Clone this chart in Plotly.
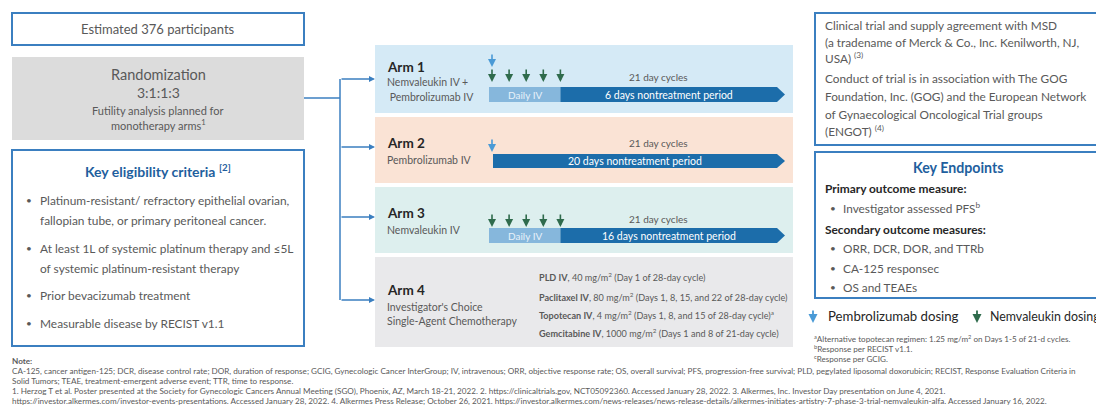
import plotly.graph_objects as go

FONT = "Lato"
GRAY = "#595959"
DARK = "#262626"
BLUE_BORDER = "#3B7FC0"
TITLE_BLUE = "#1F5F9E"
DARK_BAR = "#1C6DAA"
LIGHT_BAR = "#86B7DC"
GREEN = "#2F6B4C"
PEMBRO_BLUE = "#4A9AD6"

# ---------------- data ----------------
participants = "Estimated 376 participants"
randomization = ["Randomization", "3:1:1:3", "Futility analysis planned for", "monotherapy arms<sup>1</sup>"]
arm_titles = ["Arm 1", "Arm 2", "Arm 3", "Arm 4"]
arm_subtitles = [["Nemvaleukin IV +", " Pembrolizumab IV"], ["Pembrolizumab IV"], ["Nemvaleukin IV"],
                 ["Investigator's Choice", "Single-Agent Chemotherapy"]]
arm_colors = ["#D5EAF6", "#FAE3D5", "#DDEFEE", "#E9E9EB"]
cycle_days = [21, 21, 21]
pembro_days = [[1], [1], []]
nemva_days = [[1, 2, 3, 4, 5], [], [1, 2, 3, 4, 5]]
nontreatment_days = [6, 20, 16]
daily_label = "Daily IV"
chemo_lines = [
    "<b>PLD IV</b>, 40 mg/m<sup>2</sup> (Day 1 of 28-day cycle)",
    "<b>Paclitaxel IV</b>, 80 mg/m<sup>2</sup> (Days 1, 8, 15, and 22 of 28-day cycle)",
    "<b>Topotecan IV</b>, 4 mg/m<sup>2</sup> (Days 1, 8, and 15 of 28-day cycle)<sup>a</sup>",
    "<b>Gemcitabine IV</b>, 1000 mg/m<sup>2</sup> (Days 1 and 8 of 21-day cycle)",
]
eligibility_title = "Key eligibility criteria <sup>[2]</sup>"
eligibility = [
    ["Platinum-resistant/ refractory epithelial ovarian,", "fallopian tube, or primary peritoneal cancer."],
    ["At least 1L of systemic platinum therapy and ≤5L", "of systemic platinum-resistant therapy"],
    ["Prior bevacizumab treatment"],
    ["Measurable disease by RECIST v1.1"],
]
agreement_lines = [
    "Clinical trial and supply agreement with MSD",
    "(a tradename of Merck & Co., Inc. Kenilworth, NJ,",
    "USA) <sup>(3)</sup>",
    "Conduct of trial is in association with The GOG",
    "Foundation, Inc. (GOG) and the European Network",
    "of Gynaecological Oncological Trial groups",
    "(ENGOT) <sup>(4)</sup>",
]
endpoints_title = "Key Endpoints"
primary_title = "Primary outcome measure:"
primary = ["Investigator assessed PFS<sup>b</sup>"]
secondary_title = "Secondary outcome measures:"
secondary = ["ORR, DCR, DOR, and TTRb", "CA-125 responsec", "OS and TEAEs"]
legend_labels = ["Pembrolizumab dosing", "Nemvaleukin dosing"]
side_notes = [
    "<sup>a</sup>Alternative topotecan regimen: 1.25 mg/m<sup>2</sup> on Days 1-5 of 21-d cycles.",
    "<sup>b</sup>Response per RECIST v1.1.",
    "<sup>c</sup>Response per GCIG.",
]
notes = [
    "<b>Note:</b>",
    "CA-125, cancer antigen-125; DCR, disease control rate; DOR, duration of response; GCIG, Gynecologic Cancer InterGroup; IV, intravenous; ORR, objective response rate; OS, overall survival; PFS, progression-free survival; PLD, pegylated liposomal doxorubicin; RECIST, Response Evaluation Criteria in",
    "Solid Tumors; TEAE, treatment-emergent adverse event; TTR, time to response.",
    "1. Herzog T et al. Poster presented at the Society for Gynecologic Cancers Annual Meeting (SGO), Phoenix, AZ, March 18-21, 2022. 2. https://clinicaltrials.gov, NCT05092360. Accessed January 28, 2022. 3. Alkermes, Inc. Investor Day presentation on June 4, 2021.",
    "https://investor.alkermes.com/investor-events-presentations. Accessed January 28, 2022. 4. Alkermes Press Release; October 26, 2021. https://investor.alkermes.com/news-releases/news-release-details/alkermes-initiates-artistry-7-phase-3-trial-nemvaleukin-alfa. Accessed January 16, 2022.",
]

# ---------------- layout geometry ----------------
W, H = 1104, 409
OFF = 8  # page body margin
shapes = []
ann = []


def text(x, y, s, size=11, color=GRAY, anchor="left", family=FONT, bold=False):
    if bold:
        s = "<b>" + s + "</b>"
    ann.append(dict(x=x, y=y, xref="x", yref="y", text=s, showarrow=False, xanchor=anchor,
                    yanchor="middle", font=dict(size=size, color=color, family=family)))


def rect(x0, y0, x1, y1, fill="white", line=None, lw=0):
    shapes.append(dict(type="rect", x0=x0, y0=y0, x1=x1, y1=y1, xref="x", yref="y",
                       fillcolor=fill, line=dict(color=line or fill, width=lw), layer="below"))


def line(x0, y0, x1, y1, color=BLUE_BORDER, w=1.5):
    shapes.append(dict(type="line", x0=x0, y0=y0, x1=x1, y1=y1, xref="x", yref="y",
                       line=dict(color=color, width=w)))


def down_arrow(x, y0, y1, color, w=1.6):
    ann.append(dict(x=x, y=y1, ax=x, ay=y0, xref="x", yref="y", axref="x", ayref="y", text="",
                    showarrow=True, arrowhead=2, arrowsize=1.0, arrowwidth=w, arrowcolor=color))


def right_arrow(x0, x1, y, color=BLUE_BORDER):
    ann.append(dict(x=x1, y=y, ax=x0, ay=y, xref="x", yref="y", axref="x", ayref="y", text="",
                    showarrow=True, arrowhead=2, arrowsize=0.8, arrowwidth=1.5, arrowcolor=color))


# participants box
rect(12, 13, 304, 45, fill="white", line=BLUE_BORDER, lw=2)
text(158, 29, participants, size=13, color=GRAY, anchor="center")

# randomization box
rect(12, 57, 304, 140, fill="#DCDCDC")
text(158, 74, randomization[0], size=14.5, color=GRAY, anchor="center")
text(158, 92, randomization[1], size=14, color=GRAY, anchor="center")
text(158, 110, randomization[2], size=11, color=GRAY, anchor="center")
text(158, 124, randomization[3], size=11, color=GRAY, anchor="center")

# eligibility box
rect(12, 150, 304, 346, fill="white", line=BLUE_BORDER, lw=2)
text(158, 170, eligibility_title, size=14, color=TITLE_BLUE, anchor="center", bold=True)
ey = [200, 248, 295, 323]
for yy, item in zip(ey, eligibility):
    text(24, yy, "•", size=10, color=GRAY)
    for k, ln in enumerate(item):
        text(38, yy + k * 20, ln, size=11.9, color=GRAY)

# connectors
arm_y = [79, 147, 217, 300]
line(304, 98, 340, 98)
line(340, arm_y[0], 340, arm_y[-1])
for yy in arm_y:
    right_arrow(340, 375, yy)

# arm boxes
arm_boxes = [(45, 113), (117, 183), (187, 253), (257, 347)]
for (y0, y1), c in zip(arm_boxes, arm_colors):
    rect(375, y0, 793, y1, fill=c)

title_y = [67, 143, 213, 290]
for i in range(4):
    text(385, title_y[i], arm_titles[i], size=13.5, color=DARK, bold=True)
sub_y = [[82, 97], [160], [230], [307, 321]]
for i in range(4):
    for s, yy in zip(arm_subtitles[i], sub_y[i]):
        text(385, yy, s, size=10.5, color=GRAY)

# timelines
BAR_X0, BAR_X1 = 489, 785
DAY_W = 17.1


def day_x(d):
    return BAR_X0 + 3 + (d - 1) * DAY_W


bar_y = [(87, 102), (154, 168), (228, 243)]
cycle_y = [77, 143, 219]
pembro_y = [(53, 67), (138, 152), None]
nemva_y = [(68, 82), None, (213, 227)]
for i in range(3):
    y0, y1 = bar_y[i]
    n_treat = len(nemva_days[i])
    split = day_x(n_treat) if n_treat else BAR_X0 + 4
    if n_treat:
        rect(BAR_X0, y0, split, y1, fill=LIGHT_BAR)
        text((BAR_X0 + split) / 2, (y0 + y1) / 2, daily_label, size=10, color="#E8F2FA", anchor="center")
    ym = (y0 + y1) / 2
    shapes.append(dict(type="path", xref="x", yref="y",
                       path=f"M{split},{y0} L{BAR_X1 - 8},{y0} L{BAR_X1},{ym} L{BAR_X1 - 8},{y1} L{split},{y1} Z",
                       fillcolor=DARK_BAR, line=dict(width=0)))
    text((split + BAR_X1 - 8) / 2, ym, f"{nontreatment_days[i]} days nontreatment period", size=10.5,
         color="white", anchor="center")
    text(658, cycle_y[i], f"{cycle_days[i]} day cycles", size=10, color=GRAY, anchor="center")
    for d in pembro_days[i]:
        down_arrow(day_x(d), pembro_y[i][0], pembro_y[i][1], PEMBRO_BLUE)
    for d in nemva_days[i]:
        down_arrow(day_x(d), nemva_y[i][0], nemva_y[i][1], GREEN)

chemo_y = [277, 297, 315, 333]
for s, yy in zip(chemo_lines, chemo_y):
    text(537, yy, s, size=9.1, color=GRAY)

# agreement box
rect(815, 13, 1103, 145, fill="white", line=BLUE_BORDER, lw=2)
ag_y = [25, 42, 58, 78, 96, 114, 131]
for s, yy in zip(agreement_lines, ag_y):
    text(823, yy, s, size=11.8, color=GRAY)

# endpoints box
rect(815, 152, 1103, 298, fill="white", line=BLUE_BORDER, lw=2)
text(958, 167, endpoints_title, size=14.2, color=TITLE_BLUE, anchor="center", bold=True)
text(823, 188, primary_title, size=11.9, color=DARK, bold=True)
for s, yy in zip(primary, [208]):
    text(828, yy, "•", size=10)
    text(841, yy, s, size=11.8)
text(823, 229, secondary_title, size=11.9, color=DARK, bold=True)
for s, yy in zip(secondary, [248, 268, 287]):
    text(828, yy, "•", size=10)
    text(841, yy, s, size=11.8)

# legend
down_arrow(813, 309, 323, PEMBRO_BLUE, w=1.8)
text(826, 316, legend_labels[0], size=13.2, color=DARK)
down_arrow(977, 309, 323, GREEN, w=1.8)
text(988, 316, legend_labels[1], size=12.4, color=DARK)

for s, yy in zip(side_notes, [338, 348, 358]):
    text(812, yy, s, size=8.1, color=GRAY)

for s, yy in zip(notes, [361, 371, 381, 391, 401]):
    text(10, yy, s, size=8.15, color=GRAY)

fig = go.Figure()
fig.update_layout(
    width=W - OFF, height=H - OFF, margin=dict(l=0, r=0, t=0, b=0),
    paper_bgcolor="white", plot_bgcolor="white",
    xaxis=dict(range=[OFF, W], visible=False, fixedrange=True),
    yaxis=dict(range=[H, OFF], visible=False, fixedrange=True),
    shapes=shapes, annotations=ann, showlegend=False,
)
fig.write_html("out.html")
